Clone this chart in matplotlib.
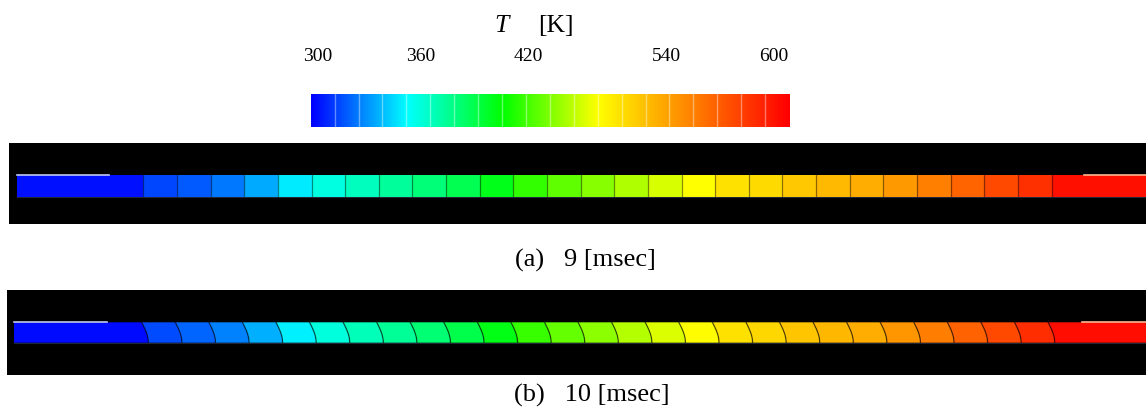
import matplotlib
matplotlib.use("Agg")
import matplotlib.pyplot as plt
import numpy as np
from matplotlib.colors import LinearSegmentedColormap, Normalize
from matplotlib.patches import Polygon, Rectangle

plt.rcParams['font.family'] = ['Liberation Serif', 'DejaVu Serif']

# temperature range of the colour scale [K]
T_MIN, T_MAX = 300, 600
N_BANDS = 20
tick_values = [300, 360, 420, 540, 600]

temps_a = [317, 322, 329, 340, 356, 367, 376, 384, 392, 401, 414, 432, 442, 452,
           461, 471, 480, 494, 498, 506, 513, 518, 528, 540, 553, 565, 577]
inlet_a, outlet_a = 304, 592
temps_b = [318, 324, 331, 342, 357, 368, 377, 385, 393, 402, 415, 433, 443, 453,
           462, 472, 481, 494, 499, 507, 514, 519, 529, 541, 554, 566, 578]
inlet_b, outlet_b = 303, 593
captions = ['(a)   9 [msec]', '(b)   10 [msec]']

W, H = 1146, 412
cmap = LinearSegmentedColormap.from_list(
    'fluent', [(0.0, '#0000ff'), (0.2, '#00ffff'), (0.4, '#00ff00'),
               (0.6, '#ffff00'), (1.0, '#ff0000')])
norm = Normalize(T_MIN, T_MAX)


def px_axes(x0, y0, x1, y1):
    # axes placed by pixel box (top-left origin), data units = pixels
    ax = fig.add_axes([x0 / W, 1 - y1 / H, (x1 - x0) / W, (y1 - y0) / H])
    ax.set_xlim(0, x1 - x0)
    ax.set_ylim(0, y1 - y0)
    ax.set_axis_off()
    return ax


def draw_panel(ax, temps, t_in, t_out, geo):
    ax.add_patch(Rectangle((0, 0), 1, 1, transform=ax.transAxes,
                           facecolor='black', zorder=0))
    yb, yt = geo['yb'], geo['yt']
    x0, cw, d = geo['x0'], geo['cw'], geo['d']
    xend = ax.get_xlim()[1]
    s = np.linspace(0, 1, 25)
    ys = yt - s * (yt - yb)

    def front(xtop):
        return xtop + d * np.sin(s * np.pi / 2)

    edges = [front(x0 + i * cw) for i in range(len(temps) + 1)]
    # inlet block
    pts = [(geo['xs'], yt)] + list(zip(edges[0], ys)) + [(geo['xs'], yb)]
    ax.add_patch(Polygon(pts, closed=True, facecolor=cmap(norm(t_in)),
                         edgecolor='none', zorder=1))
    for i, t in enumerate(temps):
        pts = list(zip(edges[i], ys)) + list(zip(edges[i + 1], ys))[::-1]
        ax.add_patch(Polygon(pts, closed=True, facecolor=cmap(norm(t)),
                             edgecolor='none', zorder=1))
    pts = list(zip(edges[-1], ys)) + [(xend, yb), (xend, yt)]
    ax.add_patch(Polygon(pts, closed=True, facecolor=cmap(norm(t_out)),
                         edgecolor='none', zorder=1))
    for e in edges:
        ax.plot(e, ys, color='black', alpha=geo['la'], lw=0.9, zorder=2)
    ax.plot([geo['xs'], xend], [yb, yb], color='#6070a0', alpha=0.35, lw=0.8, zorder=2)
    # wall lines at both ends
    ax.plot([geo['xs'], geo['wl']], [yt, yt], color='#c0c8f0', lw=1.2, zorder=3)
    ax.plot([geo['wr'], xend], [yt, yt], color='#ffb890', lw=1.2, zorder=3)


fig = plt.figure(figsize=(W / 100, H / 100), dpi=100)

# colour bar
ax_cb = px_axes(310.7, 94, 789, 126.7)
grad = np.linspace(T_MIN, T_MAX, 600)[None, :]
ax_cb.imshow(grad, cmap=cmap, norm=norm, aspect='auto',
             extent=(0, 478.3, 0, 32.7))
for e in np.linspace(0, 478.3, N_BANDS + 1)[1:-1]:
    ax_cb.axvline(e, color='white', alpha=0.4, lw=1)

tick_x = [318, 421, 528, 666, 774]
for v, x in zip(tick_values, tick_x):
    fig.text(x / W, 1 - 61 / H, str(v), ha='center', va='baseline', fontsize=14)
fig.text(502 / W, 1 - 32 / H, 'T', ha='center', va='baseline', fontsize=18.5,
         style='italic')
fig.text(555.5 / W, 1 - 32 / H, '[K]', ha='center', va='baseline', fontsize=18.5)

# panel (a): flat fronts
ax_a = px_axes(9, 142.7, 1146, 224)
draw_panel(ax_a, temps_a, inlet_a, outlet_a,
           dict(xs=8.3, x0=134.3, cw=33.64, d=0.0, yb=27.3, yt=49.0,
                la=0.45, wl=100, wr=1075))
# panel (b): curved fronts
ax_b = px_axes(7, 290, 1146, 375)
draw_panel(ax_b, temps_b, inlet_b, outlet_b,
           dict(xs=7, x0=134.7, cw=33.57, d=6.6, yb=32.3, yt=52.7,
                la=0.6, wl=99.7, wr=1074.7))

fig.text(515 / W, 1 - 266.7 / H, captions[0], ha='left', va='baseline', fontsize=19)
fig.text(514 / W, 1 - 401.3 / H, captions[1], ha='left', va='baseline', fontsize=19)

fig.savefig('out.png', dpi=100)
